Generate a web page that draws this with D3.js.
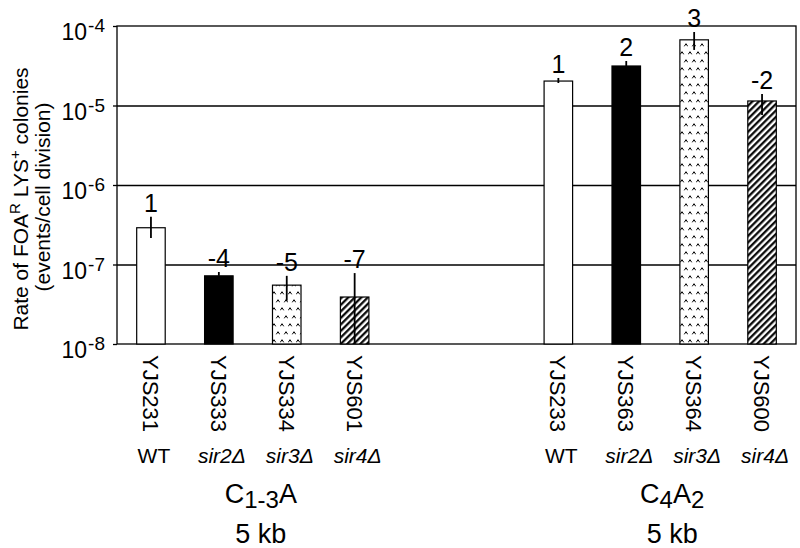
<!DOCTYPE html>
<html>
<head>
<meta charset="utf-8">
<script src="https://cdn.jsdelivr.net/npm/d3@7"></script>
<style>
  body { margin: 0; background: #fff; }
  svg { font-family: Arial, "Liberation Sans", sans-serif; }
</style>
</head>
<body>
<script>
    // data
    const slots = ['YJS231', 'YJS333', 'YJS334', 'YJS601', 'gapA', 'gapB', 'YJS233', 'YJS363', 'YJS364', 'YJS600'];
    const strains = ['YJS231', 'YJS333', 'YJS334', 'YJS601', 'YJS233', 'YJS363', 'YJS364', 'YJS600'];
    const genotypes = ['WT', 'sir2', 'sir3', 'sir4', 'WT', 'sir2', 'sir3', 'sir4'];
    const rates = [2.9e-7, 7.2e-8, 5.5e-8, 3.9e-8, 2.03e-5, 3.14e-5, 6.7e-5, 1.14e-5];
    const errHigh = [4.0e-7, 8.05e-8, 7.2e-8, 7.8e-8, 2.22e-5, 3.63e-5, 8.4e-5, 1.40e-5];
    const errLow = [2.15e-7, 7.2e-8, 3.5e-8, 1e-8, 1.92e-5, 3.14e-5, 5.0e-5, 7.6e-6];
    const foldLabels = ['1', '-4', '-5', '-7', '1', '2', '3', '-2'];
    const fills = ['white', 'black', 'url(#stipple)', 'url(#hatch)', 'white', 'black', 'url(#stipple)', 'url(#hatch)'];
    const tickValues = [1e-4, 1e-5, 1e-6, 1e-7, 1e-8];
    const tickExponents = ['-4', '-5', '-6', '-7', '-8'];

    const W = 800, H = 548;
    const plotLeft = 117, plotRight = 796, plotTop = 26, plotBottom = 344;

    const svg = d3.select('body').append('svg')
      .attr('width', W)
      .attr('height', H);

    const defs = svg.append('defs');

    const stipple = defs.append('pattern')
      .attr('id', 'stipple')
      .attr('patternUnits', 'userSpaceOnUse')
      .attr('width', 8)
      .attr('height', 16);
    stipple.append('rect').attr('width', 8).attr('height', 16).attr('fill', 'white');
    [[2, 5], [6, 13]].forEach(([cx, cy]) => {
      stipple.append('path')
        .attr('d', `M${cx - 1.7},${cy + 1.3} L${cx},${cy - 1.3} L${cx + 1.7},${cy + 1.3}`)
        .attr('fill', 'none')
        .attr('stroke', 'black')
        .attr('stroke-width', 1);
    });

    const hatch = defs.append('pattern')
      .attr('id', 'hatch')
      .attr('patternUnits', 'userSpaceOnUse')
      .attr('width', 4.6)
      .attr('height', 10)
      .attr('patternTransform', 'rotate(45)');
    hatch.append('rect').attr('width', 4.6).attr('height', 10).attr('fill', 'white');
    hatch.append('line')
      .attr('x1', 1.2).attr('x2', 1.2)
      .attr('y1', 0).attr('y2', 10)
      .attr('stroke', 'black')
      .attr('stroke-width', 2.2);

    const x = d3.scaleBand()
      .domain(slots)
      .range([plotLeft, plotRight])
      .paddingInner(0.58)
      .paddingOuter(0.29);

    const y = d3.scaleLog()
      .domain([1e-8, 1e-4])
      .range([plotBottom, plotTop]);

    // gridlines
    svg.append('g')
      .attr('transform', `translate(${plotLeft},0)`)
      .call(d3.axisLeft(y).tickValues([1e-5, 1e-6, 1e-7]).tickSize(-(plotRight - plotLeft)).tickFormat(''))
      .call(g => g.select('.domain').remove())
      .call(g => g.selectAll('line').attr('stroke', 'black').attr('stroke-width', 1.3));

    // small outer ticks
    svg.append('g')
      .attr('transform', `translate(${plotLeft},0)`)
      .call(d3.axisLeft(y).tickValues(tickValues).tickSize(4).tickFormat('').tickSizeOuter(0))
      .call(g => g.select('.domain').remove())
      .call(g => g.selectAll('line').attr('stroke', 'black').attr('stroke-width', 1.3));

    // frame
    svg.append('rect')
      .attr('x', plotLeft)
      .attr('y', plotTop)
      .attr('width', plotRight - plotLeft)
      .attr('height', plotBottom - plotTop)
      .attr('fill', 'none')
      .attr('stroke', 'black')
      .attr('stroke-width', 1.3);

    // tick labels 10^n
    const tickLabel = svg.append('g')
      .selectAll('text')
      .data(tickValues)
      .join('text')
      .attr('x', 105)
      .attr('y', d => y(d) + 14)
      .attr('text-anchor', 'end')
      .attr('font-size', 23);
    tickLabel.append('tspan').text('10');
    tickLabel.append('tspan')
      .attr('font-size', 19)
      .attr('dx', 1)
      .attr('dy', -8)
      .text((d, i) => tickExponents[i]);

    // y title
    const title = svg.append('text')
      .attr('transform', 'translate(28,199) rotate(-90)')
      .attr('text-anchor', 'middle')
      .attr('font-size', 21);
    title.append('tspan').text('Rate of FOA');
    title.append('tspan').attr('font-size', 15).attr('dy', -8).text('R');
    title.append('tspan').attr('dy', 8).text(' LYS');
    title.append('tspan').attr('font-size', 15).attr('dy', -8).text('+');
    title.append('tspan').attr('dy', 8).text(' colonies');

    svg.append('text')
      .attr('transform', 'translate(50,197) rotate(-90)')
      .attr('text-anchor', 'middle')
      .attr('font-size', 21)
      .text('(events/cell division)');

    // bars
    svg.append('g')
      .selectAll('rect')
      .data(strains)
      .join('rect')
      .attr('x', d => x(d))
      .attr('y', (d, i) => y(rates[i]))
      .attr('width', x.bandwidth())
      .attr('height', (d, i) => y(1e-8) - y(rates[i]))
      .attr('fill', (d, i) => fills[i])
      .attr('stroke', 'black')
      .attr('stroke-width', 1.2);

    // error bars
    svg.append('g')
      .selectAll('line')
      .data(strains)
      .join('line')
      .attr('x1', d => x(d) + x.bandwidth() / 2)
      .attr('x2', d => x(d) + x.bandwidth() / 2)
      .attr('y1', (d, i) => y(errHigh[i]))
      .attr('y2', (d, i) => y(errLow[i]))
      .attr('stroke', 'black')
      .attr('stroke-width', 1.8);

    // fold labels
    svg.append('g')
      .selectAll('text')
      .data(strains)
      .join('text')
      .attr('x', d => x(d) + x.bandwidth() / 2)
      .attr('y', (d, i) => y(errHigh[i]) - 5)
      .attr('text-anchor', 'middle')
      .attr('font-size', 25)
      .text((d, i) => foldLabels[i]);

    // strain labels (rotated)
    svg.append('g')
      .selectAll('text')
      .data(strains)
      .join('text')
      .attr('transform', d => `translate(${x(d) + x.bandwidth() / 2 - 8},355) rotate(90)`)
      .attr('font-size', 22)
      .text(d => d);

    // genotype labels
    const geno = svg.append('g')
      .selectAll('text')
      .data(strains)
      .join('text')
      .attr('x', d => x(d) + x.bandwidth() / 2 + 3)
      .attr('y', 463)
      .attr('text-anchor', 'middle')
      .attr('font-size', 21)
      .attr('font-style', (d, i) => genotypes[i] === 'WT' ? 'normal' : 'italic');
    geno.append('tspan').text((d, i) => genotypes[i]);
    geno.append('tspan').text((d, i) => genotypes[i] === 'WT' ? '' : '\u0394');

    // group labels
    const g1 = (x('YJS231') + x('YJS601') + x.bandwidth()) / 2 + 8;
    const g2 = (x('YJS233') + x('YJS600') + x.bandwidth()) / 2 + 12;

    const c1 = svg.append('text').attr('x', g1).attr('y', 503).attr('text-anchor', 'middle').attr('font-size', 27);
    c1.append('tspan').text('C');
    c1.append('tspan').attr('font-size', 24).attr('dy', 5).text('1-3');
    c1.append('tspan').attr('dy', -5).text('A');

    const c2 = svg.append('text').attr('x', g2).attr('y', 503).attr('text-anchor', 'middle').attr('font-size', 27);
    c2.append('tspan').text('C');
    c2.append('tspan').attr('font-size', 24).attr('dy', 5).text('4');
    c2.append('tspan').attr('dy', -5).text('A');
    c2.append('tspan').attr('font-size', 24).attr('dy', 5).text('2');

    svg.append('g')
      .selectAll('text')
      .data([g1, g2])
      .join('text')
      .attr('x', d => d)
      .attr('y', 543)
      .attr('text-anchor', 'middle')
      .attr('font-size', 27)
      .text('5 kb');
</script>
</body>
</html>
